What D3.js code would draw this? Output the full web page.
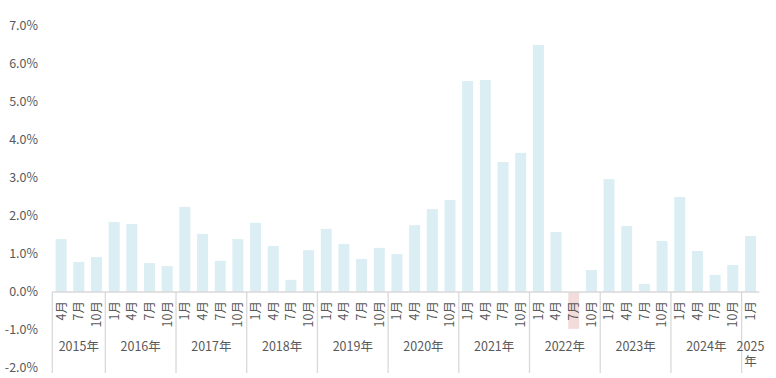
<!DOCTYPE html>
<html>
<head>
<meta charset="utf-8">
<script src="https://cdn.jsdelivr.net/npm/d3@7"></script>
<style>
  body { margin: 0; background: #fff; }
  text { font-family: "Noto Sans CJK JP", "Noto Sans", sans-serif; fill: #595959; }
</style>
</head>
<body>
<script>
// quarterly values (%), 2015 Q2 .. 2025 Q1
var years = ["2015", "2016", "2017", "2018", "2019", "2020", "2021", "2022", "2023", "2024", "2025"];
var months = [
    ["4", "7", "10"],
    ["1", "4", "7", "10"], ["1", "4", "7", "10"], ["1", "4", "7", "10"],
    ["1", "4", "7", "10"], ["1", "4", "7", "10"], ["1", "4", "7", "10"],
    ["1", "4", "7", "10"], ["1", "4", "7", "10"], ["1", "4", "7", "10"],
    ["1"]
];
var values = [
    [1.39, 0.79, 0.92],
    [1.84, 1.79, 0.76, 0.68],
    [2.24, 1.53, 0.82, 1.39],
    [1.82, 1.21, 0.32, 1.10],
    [1.66, 1.26, 0.87, 1.16],
    [1.00, 1.76, 2.18, 2.42],
    [5.55, 5.58, 3.42, 3.66],
    [6.50, 1.58, -0.97, 0.58],
    [2.97, 1.74, 0.21, 1.34],
    [2.50, 1.08, 0.45, 0.71],
    [1.47]
];
var yTicks = [-2, -1, 0, 1, 2, 3, 4, 5, 6, 7];

var W = 776, H = 378;

// flatten into one row per bar
var data = [];
years.forEach(function (y, i) {
    months[i].forEach(function (m, j) {
        data.push({year: y, month: m, key: y + "-" + m, value: values[i][j]});
    });
});

var svg = d3.select("body").append("svg")
    .attr("width", W)
    .attr("height", H);

var x = d3.scaleBand()
    .domain(data.map(function (d) { return d.key; }))
    .range([52.3, 759.3])
    .paddingInner(0.38)
    .paddingOuter(0.19);

var y = d3.scaleLinear()
    .domain([-2, 7])
    .range([368, 26]);

// y labels (no axis line, no grid)
svg.append("g").selectAll("text")
    .data(yTicks)
    .enter().append("text")
    .attr("x", 38)
    .attr("y", function (d) { return y(d); })
    .attr("dy", "0.35em")
    .attr("text-anchor", "end")
    .style("font-size", "12.5px")
    .text(function (d) { return d.toFixed(1) + "%"; });

// bars
svg.append("g").selectAll("rect")
    .data(data)
    .enter().append("rect")
    .attr("x", function (d) { return x(d.key); })
    .attr("width", x.bandwidth())
    .attr("y", function (d) { return y(Math.max(0, d.value)); })
    .attr("height", function (d) { return Math.abs(y(d.value) - y(0)); })
    .attr("fill", function (d) { return d.value < 0 ? "#f2dcdb" : "#daeef3"; });

// category axis line
var x0 = x.range()[0], x1 = x.range()[1];
svg.append("line")
    .attr("x1", x0).attr("x2", x1)
    .attr("y1", y(0)).attr("y2", y(0))
    .attr("stroke", "#d9d9d9")
    .attr("stroke-width", 1.3);

// month labels, rotated
svg.append("g").selectAll("text")
    .data(data)
    .enter().append("text")
    .attr("transform", function (d) {
        return "translate(" + (x(d.key) + x.bandwidth() / 2) + "," + 301 + ") rotate(-90)";
    })
    .attr("dy", "0.35em")
    .attr("text-anchor", "end")
    .style("font-size", "12.5px")
    .text(function (d) { return d.month + "月"; });

// year groups: separators and labels
var gap = (x.step() - x.bandwidth()) / 2;
var groups = years.map(function (yr, i) {
    var first = yr + "-" + months[i][0],
        last = yr + "-" + months[i][months[i].length - 1];
    return {year: yr, start: x(first) - gap, end: x(last) + x.bandwidth() + gap};
});

svg.append("g").selectAll("line")
    .data(groups)
    .enter().append("line")
    .attr("x1", function (d) { return d.start; })
    .attr("x2", function (d) { return d.start; })
    .attr("y1", y(0))
    .attr("y2", 373)
    .attr("stroke", "#d9d9d9")
    .attr("stroke-width", 1.3);

var yl = svg.append("g").selectAll("text")
    .data(groups)
    .enter().append("text")
    .attr("x", function (d) { return (d.start + d.end) / 2; })
    .attr("y", 347)
    .attr("dy", "0.35em")
    .attr("text-anchor", "middle")
    .style("font-size", "12.5px");

yl.each(function (d) {
    var t = d3.select(this);
    if (d.end - d.start < 30) {
        // narrow group: wrap onto two lines
        t.append("tspan").attr("x", (d.start + d.end) / 2).text(d.year);
        t.append("tspan").attr("x", (d.start + d.end) / 2).attr("dy", "1.2em").text("年");
    } else {
        t.text(d.year + "年");
    }
});
</script>
</body>
</html>
